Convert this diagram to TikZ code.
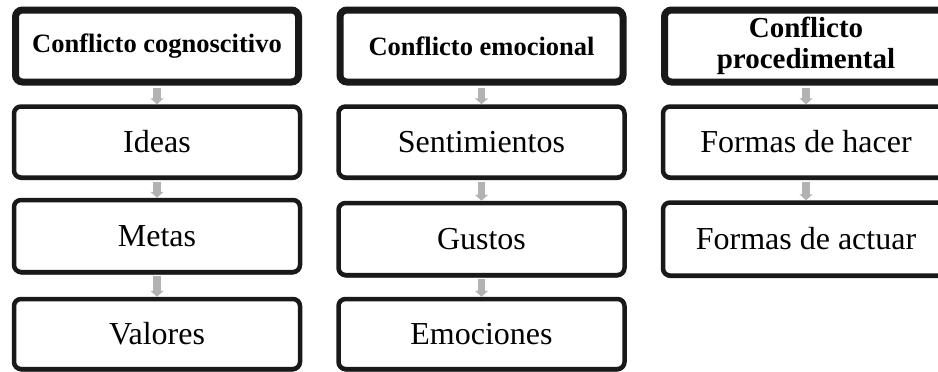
\documentclass[tikz,border=0pt]{standalone}
\usepackage{fontspec}
\setmainfont{Liberation Serif}
\usetikzlibrary{shadows,arrows.meta}
\begin{document}
\begin{tikzpicture}[x=1pt,y=-1pt,
  boxbase/.style={draw=black!90, fill=white, rounded corners=7pt, inner sep=0pt,
    drop shadow={shadow xshift=0pt, shadow yshift=-2.5pt, fill=black!90, opacity=1}},
  headbox/.style={boxbase, line width=7pt, minimum width=283pt, minimum height=72pt,
    font=\fontsize{26.5}{29}\selectfont\bfseries, align=center},
  itembox/.style={boxbase, line width=4.5pt, minimum width=286pt,
    font=\fontsize{32}{34}\selectfont},
  garrow/.style={draw=black!30, line width=7.5pt,
    -{Triangle[width=13pt,length=6pt]}, shorten <=2pt, shorten >=0pt}
]
\useasboundingbox (0,0) rectangle (938,372);
\fill[white] (0,0) rectangle (938,372);

% column 1
\node[headbox] (c1) at (157,46) {Conflicto cognoscitivo};
\node[itembox, minimum height=71pt] (ideas) at (157,142) {Ideas};
\node[itembox, minimum height=72pt] (metas) at (157,236) {Metas};
\node[itembox, minimum height=70pt] (valores) at (157,334) {Valores};

% column 2
\node[headbox] (c2) at (481.5,46) {Conflicto emocional};
\node[itembox, minimum height=71pt] (sent) at (481.5,142) {Sentimientos};
\node[itembox, minimum height=72pt] (gustos) at (481.5,239) {Gustos};
\node[itembox, minimum height=70pt] (emoc) at (481.5,334) {Emociones};

% column 3
\node[headbox, font=\fontsize{29}{31}\selectfont\bfseries] (c3) at (806,46)
  {Conflicto\\procedimental};
\node[itembox, minimum height=71pt] (hacer) at (806,142) {Formas de hacer};
\node[itembox, minimum height=73pt] (actuar) at (806,239) {Formas de actuar};

% arrows
\draw[garrow] (c1.south) -- (ideas.north);
\draw[garrow] (ideas.south) -- (metas.north);
\draw[garrow] (metas.south) -- (valores.north);
\draw[garrow] (c2.south) -- (sent.north);
\draw[garrow] (sent.south) -- (gustos.north);
\draw[garrow] (gustos.south) -- (emoc.north);
\draw[garrow] (c3.south) -- (hacer.north);
\draw[garrow] (hacer.south) -- (actuar.north);
\end{tikzpicture}
\end{document}
